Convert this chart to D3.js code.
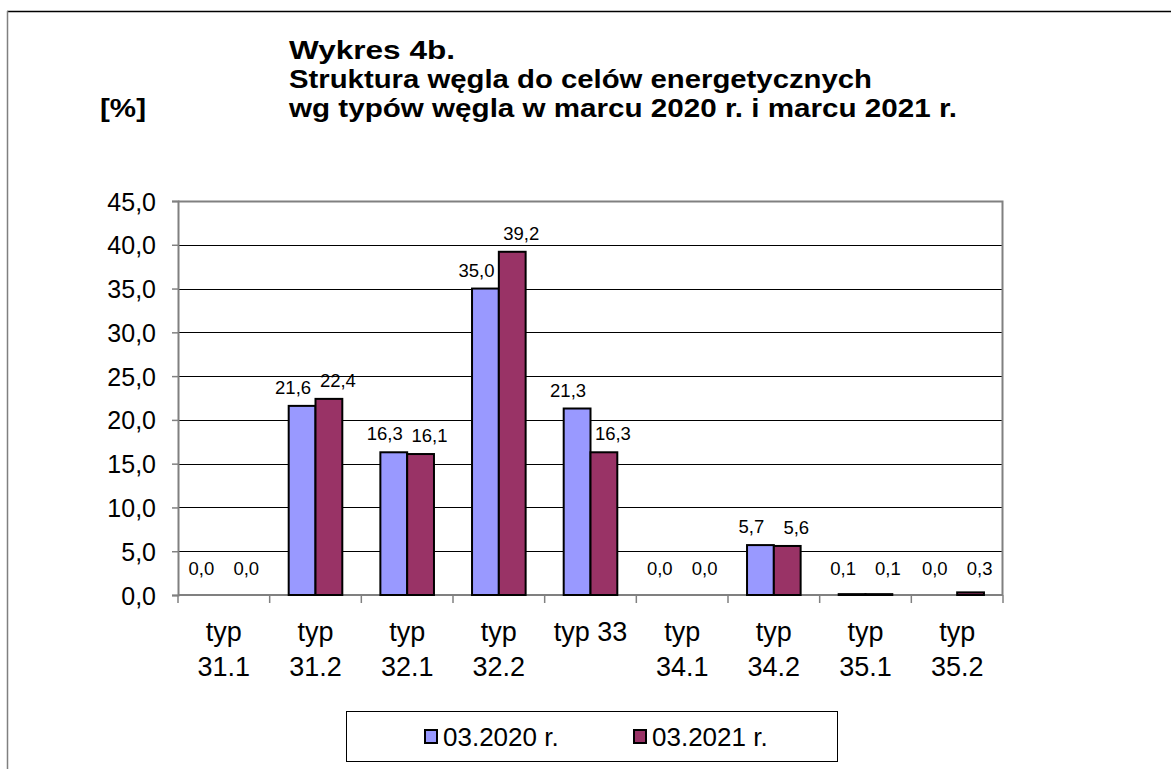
<!DOCTYPE html>
<html><head><meta charset="utf-8">
<script src="https://cdn.jsdelivr.net/npm/d3@7"></script>
<style>body{margin:0;background:#fff}svg{display:block;font-family:"Liberation Sans",Arial,sans-serif}</style>
</head><body>
<svg id="c" width="1171" height="769"></svg>
<script>
const categories = [["typ","31.1"],["typ","31.2"],["typ","32.1"],["typ","32.2"],["typ 33"],["typ","34.1"],["typ","34.2"],["typ","35.1"],["typ","35.2"]];
const seriesNames = ["03.2020 r.","03.2021 r."];
const values2020 = [0.0,21.6,16.3,35.0,21.3,0.0,5.7,0.1,0.0];
const values2021 = [0.0,22.4,16.1,39.2,16.3,0.0,5.6,0.1,0.3];
const yTicks = [0,5,10,15,20,25,30,35,40,45];
const titleLines = ["Wykres 4b.","Struktura węgla do celów energetycznych","wg typów węgla w marcu 2020 r. i marcu 2021 r."];
const unitLabel = "[%]";
const colors = ["#9999FF","#993366"];

const svg = d3.select("#c");
const fmt = v => v.toFixed(1).replace(".", ",");

// outer frame
svg.append("line").attr("x1",7).attr("x2",1171).attr("y1",11.5).attr("y2",11.5).attr("stroke","#000").attr("stroke-width",1.5);
svg.append("line").attr("x1",7.5).attr("x2",7.5).attr("y1",11).attr("y2",769).attr("stroke","#808080").attr("stroke-width",1.5);

// title
const tw = [166,583,668];
titleLines.forEach((t,i)=>{
  svg.append("text").attr("x",289).attr("y",59+i*29).attr("font-size",25).attr("font-weight","bold")
    .attr("textLength",tw[i]).attr("lengthAdjust","spacingAndGlyphs").text(t);
});
svg.append("text").attr("x",100).attr("y",117).attr("font-size",25).attr("font-weight","bold")
  .attr("textLength",46).attr("lengthAdjust","spacingAndGlyphs").text(unitLabel);

const L=178, R=1003, T=201, B=595;
const x = d3.scaleBand().domain(d3.range(categories.length)).range([L,R]).paddingInner(0).paddingOuter(0);
const y = d3.scaleLinear().domain([0,45]).range([B,T]);
const xs = d3.scaleBand().domain([0,1]).range([0,x.bandwidth()]).paddingInner(0).paddingOuter(0.71);

// gridlines
svg.append("g").selectAll("line").data(yTicks.filter(v=>v>0 && v<45)).join("line")
  .attr("x1",L).attr("x2",R).attr("y1",d=>Math.round(y(d))+0.5).attr("y2",d=>Math.round(y(d))+0.5)
  .attr("stroke","#000").attr("stroke-width",1);
// plot border top/right
svg.append("path").attr("d",`M${L},${T+0.5}H${R-0.5}V${B}`).attr("fill","none").attr("stroke","#808080").attr("stroke-width",2);

// y axis
const yAxis = d3.axisLeft(y).tickValues(yTicks).tickFormat(fmt).tickSize(6).tickPadding(16);
const gy = svg.append("g").attr("transform",`translate(${L},0)`).call(yAxis);
gy.attr("font-size",null).attr("font-family",null);
gy.select(".domain").attr("stroke","#808080").attr("stroke-width",2);
gy.selectAll(".tick line").attr("stroke","#808080").attr("stroke-width",1.5);
gy.selectAll(".tick text").style("font-size","25px").attr("fill","#000")
  .style("font-family","'Liberation Sans', Arial, sans-serif").attr("dy","0.36em");

// x axis
const gx = svg.append("g").attr("transform",`translate(0,${B})`);
gx.append("line").attr("x1",L).attr("x2",R).attr("y1",0).attr("y2",0).attr("stroke","#808080").attr("stroke-width",2);
gx.selectAll("line.tk").data(d3.range(categories.length+1)).join("line").attr("class","tk")
  .attr("x1",i=>i<categories.length? x(i):R).attr("x2",i=>i<categories.length? x(i):R)
  .attr("y1",0).attr("y2",8).attr("stroke","#808080").attr("stroke-width",1.5);
categories.forEach((c,i)=>{
  const cx = x(i)+x.bandwidth()/2;
  c.forEach((line,j)=>{
    svg.append("text").attr("x",cx).attr("y",641+j*35).attr("text-anchor","middle").attr("font-size",27)
      .text(line);
  });
});

// bars
const series=[values2020,values2021];
series.forEach((vals,s)=>{
  const g = svg.append("g");
  g.selectAll("rect").data(vals.map((v,i)=>({v,i}))).join("rect")
    .filter(d=>d.v>0)
    .attr("x",d=>x(d.i)+xs(s)).attr("width",xs.bandwidth())
    .attr("y",d=>y(d.v)).attr("height",d=>Math.max(0.5,B-y(d.v)))
    .attr("fill",colors[s]).attr("stroke","#000").attr("stroke-width",2);
  g.selectAll("text").data(vals.map((v,i)=>({v,i}))).join("text")
    .attr("x",d=>x(d.i)+xs(s)+xs.bandwidth()/2+(s===0?-9:9))
    .attr("y",d=>Math.min(y(d.v)-12, B-20))
    .attr("text-anchor","middle").attr("font-size",18.5).text(d=>fmt(d.v));
});

// legend
svg.append("rect").attr("x",346.5).attr("y",711.5).attr("width",491).attr("height",50).attr("fill","#fff").attr("stroke","#000").attr("stroke-width",1);
const lx=[425,634];
seriesNames.forEach((n,s)=>{
  svg.append("rect").attr("x",lx[s]).attr("y",730).attr("width",12).attr("height",13).attr("fill",colors[s]).attr("stroke","#000").attr("stroke-width",2);
  svg.append("text").attr("x",lx[s]+18).attr("y",746).attr("font-size",26).text(n);
});
</script>
</body></html>
